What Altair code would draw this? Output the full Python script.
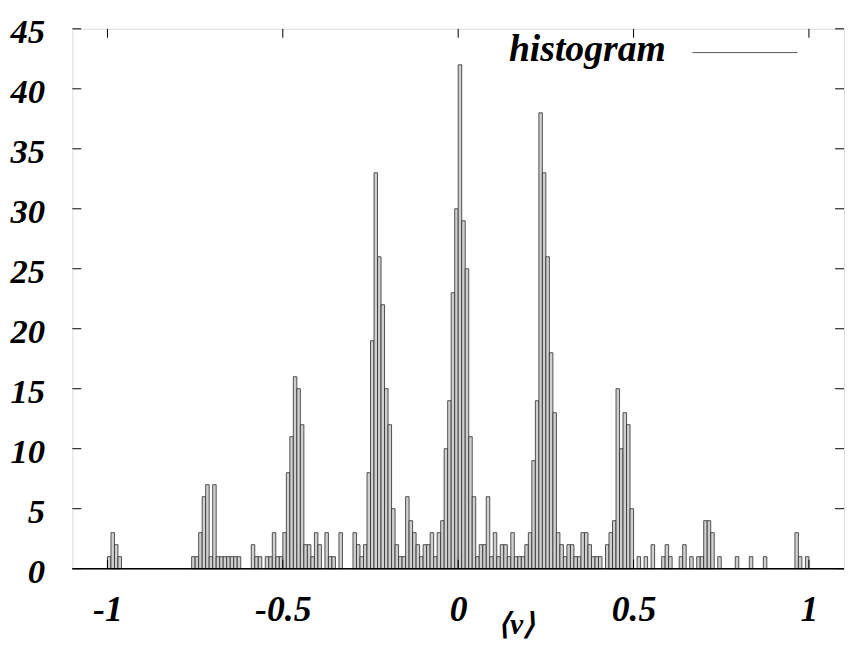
import altair as alt
import pandas as pd

# histogram bins: width 0.01, left edges from -1.00
bin_width = 0.01
bin_index = list(range(200))
counts = [0] * 200
observed = {
    0: 1, 1: 3, 2: 2, 3: 1,
    24: 1, 25: 1, 26: 3, 27: 6, 28: 7, 29: 1, 30: 7, 31: 1, 32: 1, 33: 1, 34: 1, 35: 1, 36: 1, 37: 1,
    41: 2, 42: 1, 43: 1, 45: 1, 46: 1, 47: 3, 48: 1, 49: 1, 50: 3,
    51: 8, 52: 11, 53: 16, 54: 15, 55: 12,
    56: 2, 57: 2, 58: 1, 59: 3, 60: 2, 62: 3, 63: 1, 64: 1, 66: 3, 70: 3, 71: 2, 72: 1, 73: 2,
    74: 8, 75: 19, 76: 33, 77: 26, 78: 22, 79: 15, 80: 12, 81: 5,
    82: 2, 83: 1, 84: 1, 85: 6, 86: 4, 87: 3, 88: 2, 89: 1, 90: 2, 91: 2, 92: 3, 93: 1, 94: 3, 95: 4,
    96: 10, 97: 14, 98: 23, 99: 30, 100: 42, 101: 29, 102: 25, 103: 11, 104: 6,
    105: 1, 106: 2, 107: 2, 108: 6, 109: 1, 110: 3, 111: 1, 112: 2, 113: 2, 114: 1, 115: 3,
    116: 1, 117: 1, 118: 1, 119: 2, 120: 3,
    121: 9, 122: 14, 123: 38, 124: 33, 125: 26, 126: 18, 127: 13,
    128: 3, 129: 2, 130: 1, 131: 2, 132: 2, 133: 1, 134: 1, 135: 3, 136: 3, 137: 2, 138: 1, 139: 1,
    140: 1, 142: 2, 143: 3, 144: 4,
    145: 15, 146: 10, 147: 13, 148: 12, 149: 5,
    151: 1, 153: 1, 155: 2, 158: 1, 159: 2, 160: 1, 163: 1, 164: 2, 166: 1, 168: 1, 169: 1,
    170: 4, 171: 4, 172: 3, 174: 1, 179: 1, 183: 1, 187: 1, 196: 3, 197: 1, 199: 1,
}
for k, c in observed.items():
    counts[k] = c

df = pd.DataFrame({
    "lo": [-1 + bin_width * k for k in bin_index],
    "hi": [-1 + bin_width * (k + 1) for k in bin_index],
    "count": counts,
})
df = df[df["count"] > 0]

x_ticks = [-1, -0.5, 0, 0.5, 1]
y_ticks = [0, 5, 10, 15, 20, 25, 30, 35, 40, 45]

FONT = "Liberation Serif"
W, H = 779, 545
xs = alt.Scale(domain=[-1.1, 1.1], nice=False, zero=False)
ys = alt.Scale(domain=[0, 45], nice=False)

bars = alt.Chart(df).mark_rect(fill="#cfcfcf", stroke="#2a2a2a", strokeWidth=0.8).encode(
    x=alt.X("lo:Q", scale=xs, axis=alt.Axis(
        values=x_ticks, labelExpr="toString(datum.value)", grid=False, ticks=False, domain=False,
        labelFont=FONT, labelFontSize=36, labelFontWeight="bold", labelFontStyle="italic",
        labelColor="black", labelPadding=41, labelBaseline="middle", labelFlush=False,
        title="⟨v⟩", titleFont=FONT, titleFontSize=30, titleFontWeight="bold", titleFontStyle="italic",
        titleColor="black", titleX=448, titleY=56, titleAlign="center", titleBaseline="middle",
    )),
    x2="hi:Q",
    y=alt.Y("count:Q", scale=ys, axis=alt.Axis(
        values=y_ticks, grid=False, ticks=False, domain=False,
        labelFont=FONT, labelFontSize=35, labelFontWeight="bold", labelFontStyle="italic",
        labelColor="black", labelPadding=28, labelFlush=False, labelOffset=3, title=None,
    )),
    y2=alt.datum(0),
)

baseline = alt.Chart(pd.DataFrame({"v": [0]})).mark_rule(color="black", strokeWidth=1.5).encode(
    y=alt.Y("v:Q", scale=ys), x=alt.value(0), x2=alt.value(W)
)

xt = pd.DataFrame({"t": x_ticks})
yt = pd.DataFrame({"t": y_ticks})
tick_bottom = alt.Chart(xt).mark_rule(color="black", strokeWidth=1).encode(
    x=alt.X("t:Q", scale=xs), y=alt.value(H), y2=alt.value(H - 9))
tick_top = alt.Chart(xt).mark_rule(color="black", strokeWidth=1).encode(
    x=alt.X("t:Q", scale=xs), y=alt.value(0), y2=alt.value(9))
tick_left = alt.Chart(yt).mark_rule(color="black", strokeWidth=1).encode(
    y=alt.Y("t:Q", scale=ys), x=alt.value(0), x2=alt.value(9))
tick_right = alt.Chart(yt).mark_rule(color="black", strokeWidth=1).encode(
    y=alt.Y("t:Q", scale=ys), x=alt.value(W), x2=alt.value(W - 9))

legend_label = ["histogram"]
leg_text = alt.Chart(pd.DataFrame({"s": legend_label})).mark_text(
    font=FONT, fontSize=38, fontWeight="bold", fontStyle="italic", align="right", baseline="middle", color="black"
).encode(text="s:N", x=alt.value(599), y=alt.value(21))
leg_line = alt.Chart(pd.DataFrame({"s": legend_label})).mark_rule(color="#555", strokeWidth=1).encode(
    x=alt.value(626), x2=alt.value(732), y=alt.value(24))

chart = alt.layer(bars, baseline, tick_bottom, tick_top, tick_left, tick_right, leg_text, leg_line).properties(
    width=W, height=H,
    autosize=alt.AutoSizeParams(type="none"),
    padding={"left": 65, "top": 18, "right": 1, "bottom": 72},
).configure_view(stroke="black", strokeWidth=1.5).configure(background="white")

chart.save("out.html", embed_options={"renderer": "svg", "actions": False})
